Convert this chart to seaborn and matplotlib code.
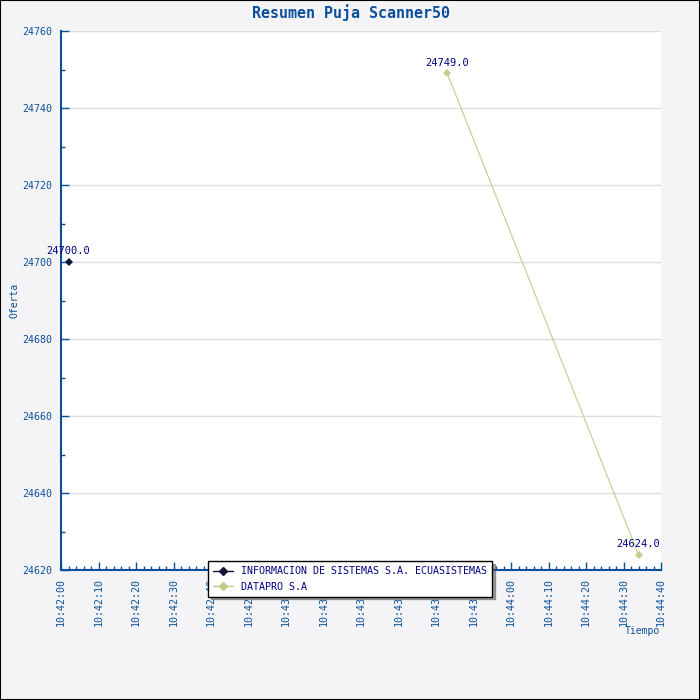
import matplotlib
matplotlib.use("Agg")
import matplotlib.pyplot as plt
import matplotlib.patches as mpatches
import seaborn as sns
import pandas as pd

# ---- data ----
series_names = ["INFORMACION DE SISTEMAS S.A. ECUASISTEMAS", "DATAPRO S.A", "DATAPRO S.A"]
times = ["10:42:02", "10:43:43", "10:44:34"]
offers = [24700.0, 24749.0, 24624.0]
x_tick_labels = ["10:42:00", "10:42:10", "10:42:20", "10:42:30", "10:42:40", "10:42:50",
                 "10:43:00", "10:43:10", "10:43:20", "10:43:30", "10:43:40", "10:43:50",
                 "10:44:00", "10:44:10", "10:44:20", "10:44:30", "10:44:40"]
y_ticks = [24620, 24640, 24660, 24680, 24700, 24720, 24740, 24760]
colors = {"INFORMACION DE SISTEMAS S.A. ECUASISTEMAS": "#141438", "DATAPRO S.A": "#BDD08A"}


def to_sec(t):
    h, m, s = (int(v) for v in t.split(":"))
    return h * 3600 + m * 60 + s


t0 = to_sec(x_tick_labels[0])
df = pd.DataFrame({"serie": series_names,
                   "t": [to_sec(t) - t0 for t in times],
                   "oferta": offers})
xt = [to_sec(t) - t0 for t in x_tick_labels]

sns.set_style("white")
plt.rcParams["font.family"] = ["DejaVu Sans Mono", "DejaVu Sans"]

blue = "#0B4F9C"
navy = "#000080"

fig = plt.figure(figsize=(7, 7), dpi=100, facecolor="#F4F4F6")
fig.patches.append(mpatches.Rectangle((0, 0), 1, 1, transform=fig.transFigure,
                                      fill=False, edgecolor="black", linewidth=1.5))
ax = fig.add_axes([61 / 700, 1 - 570 / 700, 600 / 700, 539 / 700])
ax.set_facecolor("white")

sns.lineplot(data=df, x="t", y="oferta", hue="serie", palette=colors, marker="D",
             markersize=4, markeredgewidth=0, linewidth=0.8, ax=ax, sort=False,
             hue_order=list(colors.keys()), legend=False)

for tx, ty in zip(df["t"], df["oferta"]):
    ax.annotate(f"{ty:.1f}", (tx, ty), xytext=(0, 4), textcoords="offset points",
                ha="center", va="bottom", fontsize=7.5, color=navy)

ax.set_xlim(xt[0], xt[-1])
ax.set_ylim(y_ticks[0], y_ticks[-1])
ax.set_xticks(xt)
ax.set_xticklabels(x_tick_labels, rotation=90, fontsize=7.2, color=blue)
ax.set_xticks(list(range(xt[0], xt[-1] + 1, 2)), minor=True)
ax.set_yticks(y_ticks)
ax.set_yticklabels([str(v) for v in y_ticks], fontsize=7.2, color=blue)
ax.set_yticks(list(range(y_ticks[0] + 10, y_ticks[-1], 20)), minor=True)
ax.tick_params(axis="both", which="major", length=6, width=1, color=blue, direction="in")
ax.tick_params(axis="both", which="minor", length=3, width=1, color=blue, direction="in")
ax.tick_params(axis="x", which="major", pad=6)
ax.tick_params(axis="y", which="major", pad=6.5)
ax.tick_params(axis="x", which="both", bottom=True)
ax.tick_params(axis="y", which="both", left=True)

ax.grid(axis="y", color="#DDDDDD", linewidth=1)
ax.set_axisbelow(True)
for s in ["top", "right"]:
    ax.spines[s].set_visible(False)
for s in ["left", "bottom"]:
    ax.spines[s].set_color(blue)
    ax.spines[s].set_linewidth(1.5)

ax.set_xlabel("")
ax.set_ylabel("")
fig.text(14 / 700, 1 - 300 / 700, "Oferta", rotation=90, ha="center", va="center",
         fontsize=7, color=blue)
fig.text(660 / 700, 1 - 631 / 700, "Tiempo", ha="right", va="center",
         fontsize=7, color=blue)
fig.text(351 / 700, 1 - 13 / 700, "Resumen Puja Scanner50", ha="center", va="center",
         fontsize=10.8, fontweight="bold", color=blue)

handles = [plt.Line2D([], [], color=c, marker="D", markersize=4, linewidth=1)
           for c in colors.values()]
leg = ax.legend(handles, list(colors.keys()), loc="upper left",
                bbox_to_anchor=(208 / 700, 1 - 561 / 700), bbox_transform=fig.transFigure,
                fontsize=7.2, frameon=True, fancybox=False, shadow=True, borderpad=0.5,
                labelspacing=0.55, handlelength=2.0, handletextpad=0.8, borderaxespad=0)
leg.get_frame().set_edgecolor("black")
leg.get_frame().set_linewidth(1)
for txt in leg.get_texts():
    txt.set_color(navy)
leg.set_zorder(10)

fig.savefig("out.png", dpi=100, facecolor=fig.get_facecolor())
